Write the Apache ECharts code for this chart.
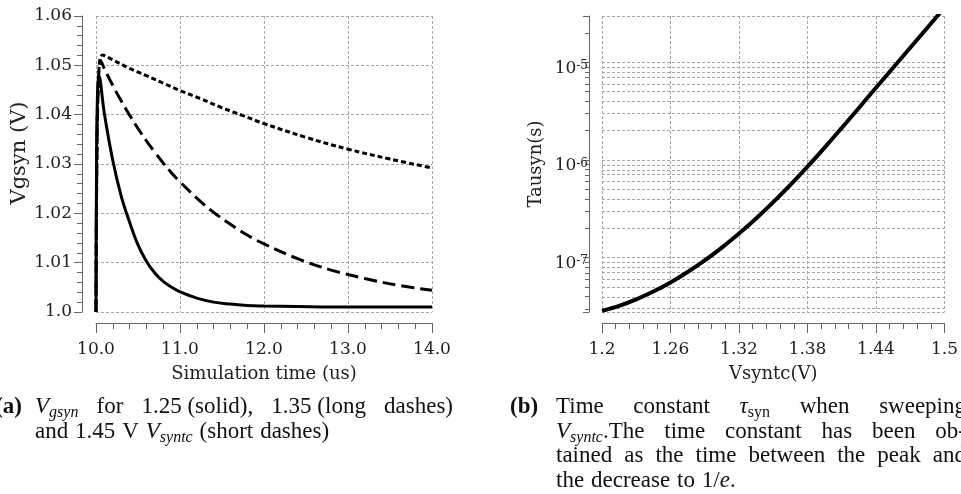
<!DOCTYPE html>
<html>
<head>
<meta charset="utf-8">
<script src="https://cdn.jsdelivr.net/npm/echarts@6/dist/echarts.min.js"></script>
<style>
html,body{margin:0;padding:0;background:#fff;}
#chart{width:961px;height:494px;}
</style>
</head>
<body>
<div id="chart"></div>
<script>
// ---- Data: panel (a) Vgsyn transients (time in us, voltage in V) ----
const timeSolid = [10.0, 10.005, 10.015, 10.036, 10.1, 10.2, 10.3, 10.4, 10.5, 10.6, 10.7, 10.8, 10.9, 11.0, 11.2, 11.4, 11.6, 11.8, 12.0, 12.4, 12.8, 13.2, 13.6, 14.0];
const vSolid    = [1.0, 1.025, 1.042, 1.0478, 1.0402, 1.0307, 1.0235, 1.0182, 1.0136, 1.0103, 1.0079, 1.0062, 1.0050, 1.0041, 1.0028, 1.0020, 1.0016, 1.0013, 1.0012, 1.0011, 1.0010, 1.0010, 1.0010, 1.0010];
const timeLong  = [10.0, 10.01, 10.03, 10.056, 10.1, 10.2, 10.3, 10.4, 10.5, 10.6, 10.7, 10.8, 10.9, 11.0, 11.2, 11.4, 11.6, 11.8, 12.0, 12.4, 12.8, 13.2, 13.6, 14.0];
const vLong     = [1.0, 1.03, 1.047, 1.0509, 1.0493, 1.0459, 1.0428, 1.0399, 1.0372, 1.0347, 1.0324, 1.0302, 1.0282, 1.0264, 1.0231, 1.0202, 1.0178, 1.0156, 1.0138, 1.0108, 1.0085, 1.0068, 1.0054, 1.0044];
const timeShort = [10.0, 10.01, 10.03, 10.08, 10.2, 10.4, 10.6, 10.8, 11.0, 11.25, 11.5, 11.75, 12.0, 12.5, 13.0, 13.5, 14.0];
const vShort    = [1.0, 1.03, 1.047, 1.0521, 1.0511, 1.0494, 1.0479, 1.0464, 1.0449, 1.0432, 1.0414, 1.0398, 1.0382, 1.0354, 1.0330, 1.0310, 1.0292];

// ---- Data: panel (b) time constant vs Vsyntc ----
const vsyntc = [1.2, 1.215, 1.23, 1.245, 1.26, 1.275, 1.29, 1.305, 1.32, 1.335, 1.35, 1.365, 1.38, 1.395, 1.41, 1.425, 1.44, 1.455, 1.47, 1.485, 1.5];
const tausyn = [2.85e-8, 3.21e-8, 3.74e-8, 4.50e-8, 5.58e-8, 7.14e-8, 9.40e-8, 1.27e-7, 1.77e-7, 2.52e-7, 3.70e-7, 5.56e-7, 8.55e-7, 1.34e-6, 2.13e-6, 3.41e-6, 5.50e-6, 8.81e-6, 1.41e-5, 2.26e-5, 3.63e-5];

// ---- Axis ranges / tick settings ----
const xRangeA = [10, 14], xStepA = 1;
const yRangeA = [1.0, 1.06], yStepA = 0.01;
const xRangeB = [1.2, 1.5], xStepB = 0.06;
const yRangeB = [2.78e-8, 2.98e-5];
const minorGridB = [3e-8, 4e-8, 5e-8, 6e-8, 7e-8, 8e-8, 9e-8,
                    2e-7, 3e-7, 4e-7, 5e-7, 6e-7, 7e-7, 8e-7, 9e-7,
                    2e-6, 3e-6, 4e-6, 5e-6, 6e-6, 7e-6, 8e-6, 9e-6];

const pairs = (xs, ys) => xs.map((x, i) => [x, ys[i]]);

const axisFont = 'DejaVu Serif';
const axisColor = '#666';
const gridColor = '#a6a6a6';
const gridLine = { show: true, lineStyle: { color: gridColor, width: 1, type: [3, 2] } };
const lblStyle = { fontFamily: axisFont, fontSize: 17, color: '#222' };
const nameStyle = { fontFamily: axisFont, fontSize: 18, color: '#222' };

function xAxisCfg(grid, range, step, name, fmt) {
  return {
    gridIndex: grid, type: 'value', min: range[0], max: range[1], interval: step,
    offset: 11,
    axisLine: { show: true, onZero: false, lineStyle: { color: axisColor, width: 1 } },
    axisTick: { show: true, length: 10, lineStyle: { color: axisColor } },
    minorTick: { show: true, splitNumber: 5, length: 6, lineStyle: { color: axisColor } },
    splitLine: gridLine,
    axisLabel: Object.assign({ margin: 18, formatter: fmt }, lblStyle),
    name: name, nameLocation: 'middle', nameGap: 42, nameTextStyle: nameStyle
  };
}

// ---- Caption layout (justified lines, measured with canvas) ----
const capFont = 'Liberation Serif';
const capSize = 23, subSize = 16;
const mctx = document.createElement('canvas').getContext('2d');
function fontStr(tk) {
  return (tk.it ? 'italic ' : '') + (tk.bold ? 'bold ' : '') + (tk.sub ? subSize : capSize) + 'px "' + capFont + '"';
}
function tw(tk) { mctx.font = fontStr(tk); return mctx.measureText(tk.t).width; }
function T(t, o) { return Object.assign({ t: t }, o || {}); }

const capLines = [
  { y: 407, left: 35, right: 453, justify: true, words: [
    [T('V', { it: 1 }), T('gsyn', { it: 1, sub: 1 })], [T('for')], [T('1.25 (solid),')], [T('1.35 (long')], [T('dashes)')] ] },
  { y: 431.5, left: 35, justify: false, words: [
    [T('and')], [T('1.45')], [T('V')], [T('V', { it: 1 }), T('syntc', { it: 1, sub: 1 })], [T('(short')], [T('dashes)')] ] },
  { y: 407, left: 556, right: 966, justify: true, words: [
    [T('Time')], [T('constant')], [T('τ', { it: 1 }), T('syn', { sub: 1 })], [T('when')], [T('sweeping')] ] },
  { y: 431.5, left: 556, right: 966, justify: true, words: [
    [T('V', { it: 1 }), T('syntc', { it: 1, sub: 1 }), T('.The')], [T('time')], [T('constant')], [T('has')], [T('been')], [T('ob-')] ] },
  { y: 456, left: 556, right: 966, justify: true, words: [
    [T('tained')], [T('as')], [T('the')], [T('time')], [T('between')], [T('the')], [T('peak')], [T('and')] ] },
  { y: 480.5, left: 556, justify: false, words: [
    [T('the')], [T('decrease')], [T('to')], [T('1/'), T('e', { it: 1 }), T('.')] ] }
];

function textEl(tk, x, y) {
  return {
    type: 'text', x: x, y: y, silent: true,
    style: {
      text: tk.t, fill: '#111', fontFamily: capFont, fontSize: tk.sub ? subSize : capSize,
      fontStyle: tk.it ? 'italic' : 'normal', fontWeight: tk.bold ? 'bold' : 'normal',
      textAlign: 'left', align: 'left', textVerticalAlign: 'middle', verticalAlign: 'middle'
    }
  };
}
const captions = [];
captions.push(textEl(T('(a)', { bold: 1 }), 22 - tw(T('(a)', { bold: 1 })), 407));
captions.push(textEl(T('(b)', { bold: 1 }), 510, 407));
capLines.forEach(line => {
  const widths = line.words.map(g => g.reduce((s, tk) => s + tw(tk), 0));
  const total = widths.reduce((a, b) => a + b, 0);
  const gap = line.justify ? (line.right - line.left - total) / (line.words.length - 1) : capSize * 0.3;
  let x = line.left;
  line.words.forEach((g, gi) => {
    let cx = x;
    g.forEach(tk => {
      captions.push(textEl(tk, cx, line.y + (tk.sub ? 6 : 0)));
      cx += tw(tk);
    });
    x += widths[gi] + gap;
  });
});

const chart = echarts.init(document.getElementById('chart'), null, { renderer: 'canvas' });
chart.setOption({
  animation: false,
  backgroundColor: '#ffffff',
  grid: [
    { left: 96, top: 16, width: 336, height: 296 },
    { left: 602, top: 16, width: 346, height: 296 }
  ],
  xAxis: [
    xAxisCfg(0, xRangeA, xStepA, 'Simulation time (us)', v => v.toFixed(1)),
    xAxisCfg(1, xRangeB, xStepB, 'Vsyntc(V)', v => String(parseFloat(v.toFixed(2))))
  ],
  yAxis: [
    {
      gridIndex: 0, type: 'value', min: yRangeA[0], max: yRangeA[1], interval: yStepA,
      offset: 14,
      axisLine: { show: true, onZero: false, lineStyle: { color: axisColor, width: 1 } },
      axisTick: { show: true, length: 8, lineStyle: { color: axisColor } },
      minorTick: { show: true, splitNumber: 5, length: 5, lineStyle: { color: axisColor } },
      splitLine: gridLine,
      axisLabel: Object.assign({ margin: 10, formatter: v => (Math.abs(v - 1) < 1e-9 ? '1.0' : v.toFixed(2)) }, lblStyle),
      name: 'Vgsyn (V)', nameLocation: 'middle', nameGap: 48,
      nameTextStyle: { fontFamily: axisFont, fontSize: 21, color: '#222', padding: [0, 0, 0, 22] }
    },
    {
      gridIndex: 1, type: 'log', logBase: 10, min: yRangeB[0], max: yRangeB[1],
      offset: 13,
      axisLine: { show: true, onZero: false, lineStyle: { color: axisColor, width: 1 } },
      axisTick: { show: true, length: 6, lineStyle: { color: axisColor } },
      minorTick: { show: true, splitNumber: 9, length: 4, lineStyle: { color: axisColor } },
      splitLine: gridLine,
      minorSplitLine: { show: false },
      axisLabel: {
        margin: 1,
        padding: [12, 0, 0, 0],
        formatter: function (v) {
          const e = Math.log10(v), r = Math.round(e);
          if (Math.abs(e - r) > 1e-6) return '';
          return '{b|10}{s|' + r + '}';
        },
        rich: {
          b: { fontFamily: axisFont, fontSize: 17, color: '#222', lineHeight: 17, verticalAlign: 'bottom', padding: [10, 0, 0, 0] },
          s: { fontFamily: axisFont, fontSize: 12, color: '#222', lineHeight: 12, verticalAlign: 'top' }
        }
      },
      name: 'Tausyn(s)', nameLocation: 'middle', nameGap: 44, nameTextStyle: nameStyle
    },
    // hidden helper axis in decades (log10 units) used only to place the minor log grid lines
    {
      gridIndex: 1, type: 'value', show: false,
      min: Math.log10(yRangeB[0]), max: Math.log10(yRangeB[1]),
      splitLine: { show: false }, axisLine: { show: false }, axisTick: { show: false }, axisLabel: { show: false }
    }
  ],
  series: [
    { type: 'line', xAxisIndex: 0, yAxisIndex: 0, data: pairs(timeSolid, vSolid), showSymbol: false, smooth: 0.4,
      lineStyle: { color: '#000', width: 3, type: 'solid' } },
    { type: 'line', xAxisIndex: 0, yAxisIndex: 0, data: pairs(timeLong, vLong), showSymbol: false, smooth: 0.4,
      lineStyle: { color: '#000', width: 3, type: [13, 6] } },
    { type: 'line', xAxisIndex: 0, yAxisIndex: 0, data: pairs(timeShort, vShort), showSymbol: false, smooth: 0.4,
      lineStyle: { color: '#000', width: 3, type: [5, 3] } },
    // carrier for the log minor grid lines (its own line is invisible)
    { type: 'line', xAxisIndex: 1, yAxisIndex: 2, data: pairs(vsyntc, tausyn.map(v => Math.log10(v))), z: 1, silent: true, showSymbol: false,
      lineStyle: { opacity: 0, width: 0 },
      markLine: { silent: true, z: 1, symbol: ['none', 'none'], label: { show: false }, animation: false,
        lineStyle: { color: gridColor, width: 1, type: [3, 2], opacity: 1 },
        emphasis: { disabled: true },
        data: minorGridB.map(v => ({ yAxis: Math.log10(v) })) } },
    { type: 'line', xAxisIndex: 1, yAxisIndex: 1, data: pairs(vsyntc, tausyn), showSymbol: false, smooth: 0.3, z: 6,
      lineStyle: { color: '#000', width: 4 } }
  ],
  graphic: captions
});
</script>
</body>
</html>
